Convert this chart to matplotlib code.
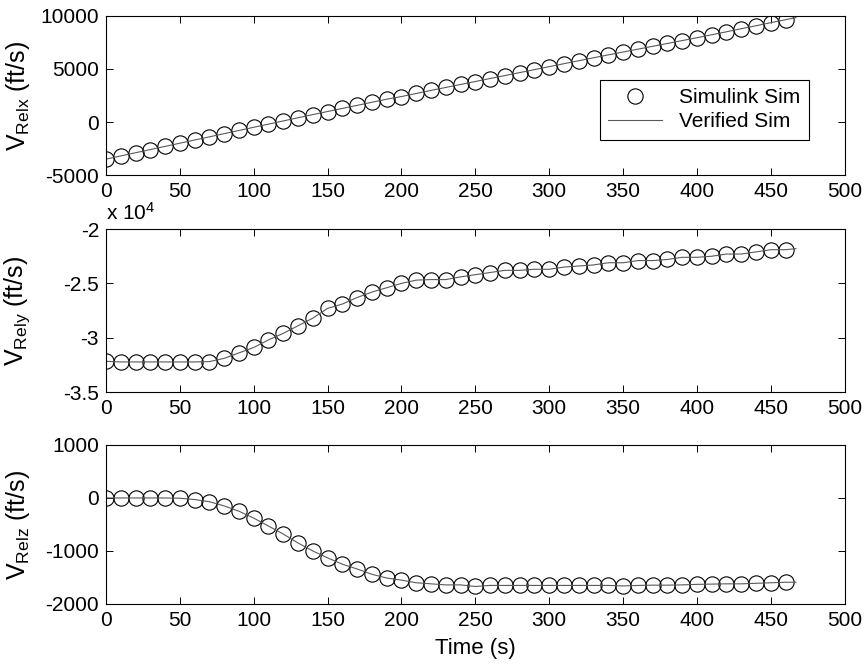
import numpy as np
import matplotlib
matplotlib.use('Agg')
import matplotlib.pyplot as plt
from matplotlib.ticker import FuncFormatter

plt.rcParams['font.family'] = ['Liberation Sans', 'DejaVu Sans']
plt.rcParams['mathtext.fontset'] = 'custom'
plt.rcParams['mathtext.rm'] = 'Liberation Sans'
plt.rcParams['mathtext.it'] = 'Liberation Sans'
plt.rcParams['axes.unicode_minus'] = False

# Simulink sim samples (every 10 s)
t_sim = [0, 10, 20, 30, 40, 50, 60, 70, 80, 90,
         100, 110, 120, 130, 140, 150, 160, 170, 180, 190,
         200, 210, 220, 230, 240, 250, 260, 270, 280, 290,
         300, 310, 320, 330, 340, 350, 360, 370, 380, 390,
         400, 410, 420, 430, 440, 450, 460]

vx_sim = [-3500, -3200, -2900, -2600, -2300, -2000, -1700, -1400, -1100, -800,
          -500, -200, 100, 400, 700, 990, 1280, 1570, 1860, 2150,
          2400, 2690, 2980, 3260, 3540, 3820, 4100, 4380, 4660, 4940,
          5220, 5500, 5780, 6060, 6330, 6600, 6870, 7140, 7410, 7680,
          7950, 8230, 8510, 8800, 9080, 9370, 9650]

vy_sim = [-32170, -32230, -32230, -32230, -32230, -32230, -32230, -32200, -31900, -31400,
          -30900, -30200, -29600, -28900, -28200, -27300, -26900, -26300, -25800, -25400,
          -25000, -24700, -24650, -24650, -24400, -24200, -24000, -23800, -23800, -23700,
          -23700, -23500, -23400, -23300, -23100, -23100, -22900, -22900, -22800, -22600,
          -22600, -22500, -22300, -22300, -22100, -21900, -21900]

vz_sim = [0, 0, 0, 0, 0, -5, -30, -70, -150, -250,
          -380, -530, -680, -850, -1000, -1130, -1250, -1340, -1440, -1510,
          -1550, -1600, -1620, -1640, -1640, -1670, -1650, -1650, -1650, -1650,
          -1650, -1650, -1650, -1650, -1650, -1660, -1650, -1645, -1645, -1640,
          -1630, -1625, -1620, -1620, -1610, -1600, -1590]

# Verified sim runs slightly past the last Simulink sample
t_ver = t_sim + [467]
vx_ver = vx_sim + [9850]
vy_ver = vy_sim + [-21800]
vz_ver = vz_sim + [-1590]

fig = plt.figure(figsize=(8.65, 6.69), dpi=100)
positions = [[0.1225, 0.7384, 0.854, 0.2377],
             [0.1225, 0.4140, 0.854, 0.2436],
             [0.1225, 0.0972, 0.854, 0.2377]]
axes = [fig.add_axes(p) for p in positions]

series = [(vx_sim, vx_ver, r'V$_{\mathrm{Relx}}$ (ft/s)', (-5000, 10000), [-5000, 0, 5000, 10000]),
          (vy_sim, vy_ver, r'V$_{\mathrm{Rely}}$ (ft/s)', (-35000, -20000), [-35000, -30000, -25000, -20000]),
          (vz_sim, vz_ver, r'V$_{\mathrm{Relz}}$ (ft/s)', (-2000, 1000), [-2000, -1000, 0, 1000])]

for ax, (ysim, yver, lab, ylim, yticks) in zip(axes, series):
    ax.plot(t_sim, ysim, 'o', ms=11, mfc='none', mec='black', mew=0.8, label='Simulink Sim')
    ax.plot(t_ver, yver, '-', color='0.35', lw=0.8, label='Verified Sim')
    ax.set_xlim(0, 500)
    ax.set_ylim(*ylim)
    ax.set_xticks(np.arange(0, 501, 50))
    ax.set_yticks(yticks)
    ax.tick_params(direction='in', top=True, right=True, length=5, width=0.7,
                   labelsize=15, pad=5, colors='black')
    for sp in ax.spines.values():
        sp.set_linewidth(0.8)
        sp.set_color('black')
    ax.set_ylabel(lab, fontsize=18)
    ax.yaxis.set_label_coords(-0.1, 0.5)

axes[1].yaxis.set_major_formatter(FuncFormatter(lambda v, p: '%g' % (v / 1e4)))
axes[1].text(0.0, 1.03, r'x 10$^4$', transform=axes[1].transAxes, fontsize=15,
             ha='left', va='bottom')

axes[2].set_xlabel('Time (s)', fontsize=16, labelpad=6)

leg = axes[0].legend(loc='center', bbox_to_anchor=(0.81, 0.41), fontsize=15,
                     frameon=True, fancybox=False, framealpha=1, handlelength=2.6,
                     borderpad=0.4, labelspacing=0.25)
leg.get_frame().set_edgecolor('black')
leg.get_frame().set_linewidth(0.8)

fig.savefig('out.png', dpi=100)
